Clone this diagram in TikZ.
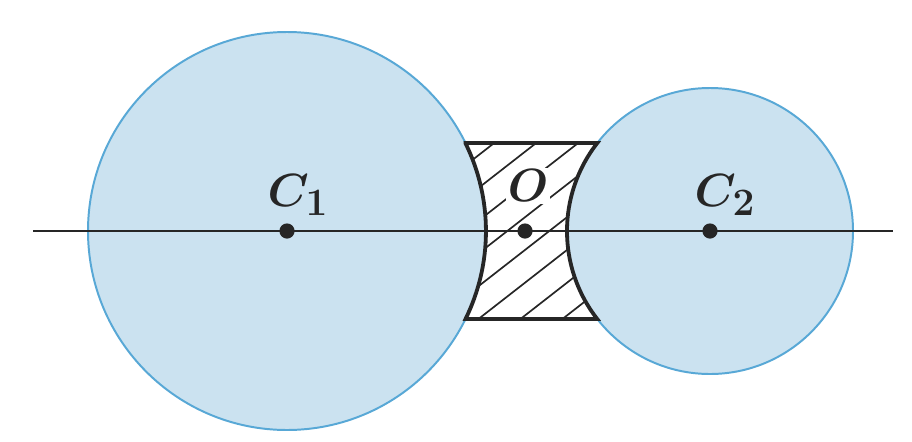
\documentclass[tikz,border=0pt]{standalone}
\usepackage{tikz}
\usetikzlibrary{positioning}
\usepackage{amsmath,bm}
\usepackage{xcolor}
\definecolor{discblue}{RGB}{203,226,240}
\definecolor{rimblue}{RGB}{88,168,214}
\definecolor{inkgrey}{RGB}{38,38,38}

\begin{document}
\begin{tikzpicture}[x=0.025cm, y=-0.025cm,
  disc/.style={draw=rimblue, line width=1.4pt, fill=discblue},
  bridge/.style={draw=inkgrey, line width=2.7pt, line join=miter},
  hatch/.style={draw=inkgrey, line width=1.2pt},
  axis/.style={draw=inkgrey, line width=1.1pt},
  dot/.style={circle, fill=inkgrey, inner sep=0pt, minimum size=0.38cm},
  lbl/.style={font=\Huge, scale=1.33, text=inkgrey, inner sep=0pt}]
  \useasboundingbox (0,0) rectangle (912,441);
  \fill[white] (0,0) rectangle (912,441);
  % the two discs
  \draw[disc] (287,231) circle[radius=199];
  \draw[disc] (710,231) circle[radius=143];
  % hatched part between them
  \fill[white] (465.5,143) -- (597.3,143) arc[start angle=218, end angle=142, radius=143]
    -- (465.5,319) arc[start angle=26.2, end angle=-26.2, radius=199] -- cycle;
  \begin{scope}
    \clip (465.5,143) -- (597.3,143) arc[start angle=218, end angle=142, radius=143]
      -- (465.5,319) arc[start angle=26.2, end angle=-26.2, radius=199] -- cycle;
    \foreach \k in {-7,...,2}
      \draw[hatch] (523+42*\k-118,317+92) -- (523+42*\k+236,317-184);
  \end{scope}
  \draw[bridge] (465.5,143) -- (597.3,143) arc[start angle=218, end angle=142, radius=143]
    -- (465.5,319) arc[start angle=26.2, end angle=-26.2, radius=199] -- cycle;
  % centre line and points
  \coordinate (west) at (33,231);
  \coordinate (east) at (893,231);
  \draw[axis] (west) -- (east);
  \node[dot] (c1) at (287,231) {};
  \node[dot] (o) at (525,231) {};
  \node[dot] (c2) at (710,231) {};
  \node[lbl] (c1lab) at (298,195) {$\bm{C}_{\bm{1}}$};
  \node[lbl, fill=white, inner sep=1pt] (olab) at (528,186) {$\bm{O}$};
  \node[lbl] (c2lab) at (725,195) {$\bm{C}_{\bm{2}}$};
\end{tikzpicture}
\end{document}
